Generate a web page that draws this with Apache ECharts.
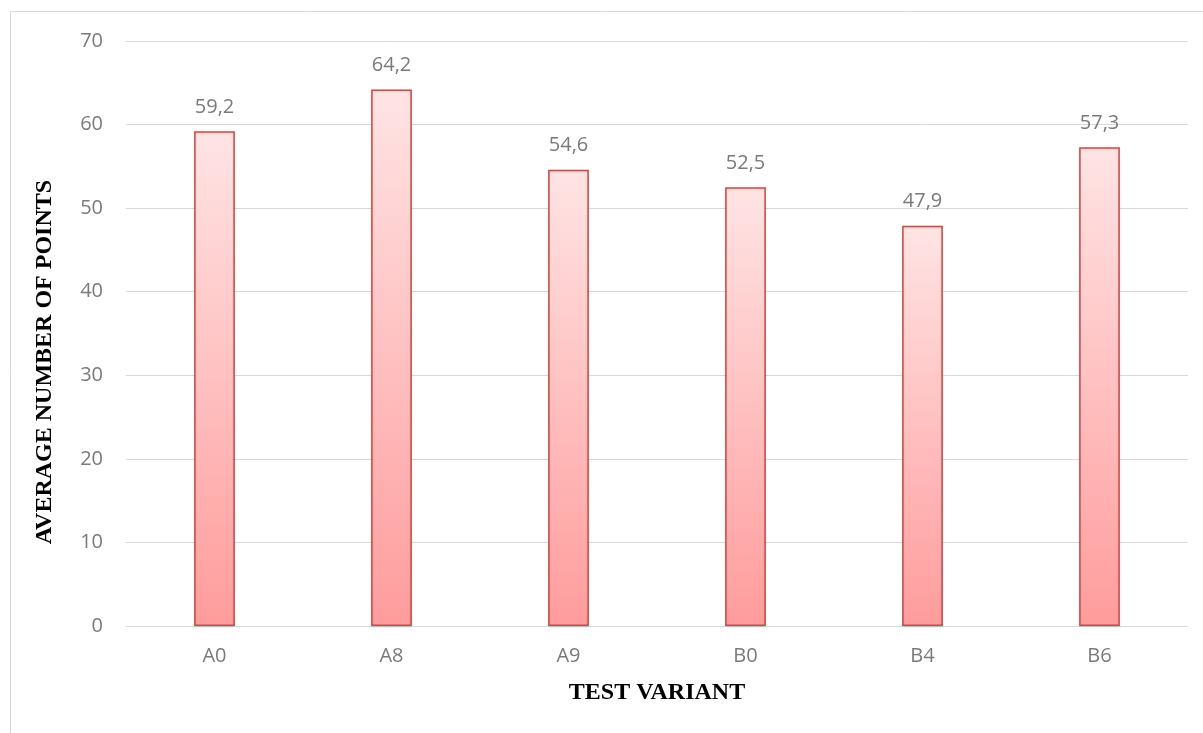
<!DOCTYPE html>
<html>
<head>
<meta charset="utf-8">
<script src="https://cdn.jsdelivr.net/npm/echarts@6/dist/echarts.min.js"></script>
<style>
html,body{margin:0;padding:0;background:#fff;}
#main{width:1203px;height:733px;}
</style>
</head>
<body>
<div id="main"></div>
<script>
var categories = ['A0', 'A8', 'A9', 'B0', 'B4', 'B6'];
var values = [59.2, 64.2, 54.6, 52.5, 47.9, 57.3];
var yTicks = [0, 10, 20, 30, 40, 50, 60, 70];

var chart = echarts.init(document.getElementById('main'));
chart.setOption({
  animation: false,
  backgroundColor: '#fff',
  grid: { left: 126, right: 15, top: 41, bottom: 107, containLabel: false },
  graphic: [
    { type: 'rect', shape: { x: 10.5, y: 11.5, width: 1200, height: 730 },
      style: { fill: 'none', stroke: '#d9d9d9', lineWidth: 1 }, silent: true },
    { type: 'text', x: 45, y: 362, rotation: Math.PI / 2,
      style: { text: 'AVERAGE NUMBER OF POINTS', fill: '#000', font: 'bold 24px "Liberation Serif"',
        textAlign: 'center', textVerticalAlign: 'middle' } }
  ],
  xAxis: {
    type: 'category',
    data: categories,
    name: 'TEST VARIANT',
    nameLocation: 'middle',
    nameGap: 55,
    nameTextStyle: { fontFamily: 'Liberation Serif', fontWeight: 'bold', fontSize: 24, color: '#000' },
    axisLine: { lineStyle: { color: '#d9d9d9', width: 1 } },
    axisTick: { show: false },
    axisLabel: { color: '#7a7a7a', fontFamily: 'Open Sans', fontSize: 20, margin: 20 }
  },
  yAxis: {
    type: 'value',
    min: yTicks[0],
    max: yTicks[yTicks.length - 1],
    interval: 10,
    axisLine: { show: false },
    axisTick: { show: false },
    splitLine: { lineStyle: { color: '#d9d9d9', width: 1 } },
    axisLabel: { color: '#7a7a7a', fontFamily: 'Open Sans', fontSize: 20, margin: 23 }
  },
  series: [{
    type: 'bar',
    data: values,
    barWidth: '23%',
    itemStyle: {
      color: new echarts.graphic.LinearGradient(0, 0, 0, 1, [
        { offset: 0, color: '#ffe4e4' },
        { offset: 1, color: '#ff9c9c' }
      ]),
      borderColor: '#c0504d',
      borderWidth: 1.5,
      shadowColor: 'rgba(0,0,0,0.15)',
      shadowBlur: 2,
      shadowOffsetY: 1
    },
    label: {
      show: true,
      position: 'top',
      distance: 14,
      color: '#7a7a7a',
      fontFamily: 'Open Sans',
      fontSize: 20,
      formatter: function (p) { return String(p.value.toFixed(1)).replace('.', ','); }
    }
  }]
});
</script>
</body>
</html>
